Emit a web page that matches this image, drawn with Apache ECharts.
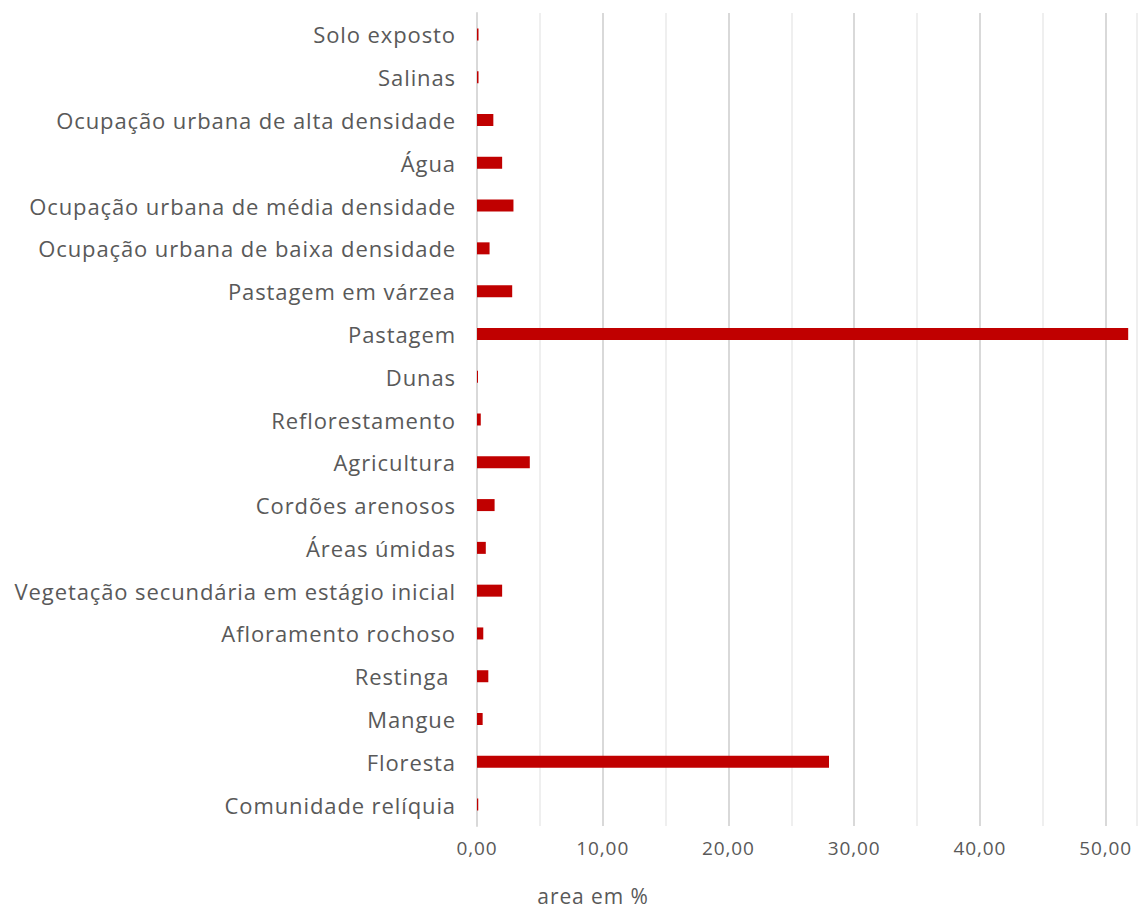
<!DOCTYPE html>
<html>
<head>
<meta charset="utf-8">
<script src="https://cdn.jsdelivr.net/npm/echarts@6/dist/echarts.min.js"></script>
<style>
  html, body { margin: 0; padding: 0; background: #fff; }
  #container { width: 1140px; height: 917px; }
  /* Excel-style loose tracking on all chart text */
  #container svg text { letter-spacing: 0.9px; }
</style>
</head>
<body>
<div id="container"></div>
<script>
// Land cover classes, bottom to top as on the chart
var categories = [
    'Comunidade relíquia',
    'Floresta',
    'Mangue',
    'Restinga ',
    'Afloramento rochoso',
    'Vegetação secundária em estágio inicial',
    'Áreas úmidas',
    'Cordões arenosos',
    'Agricultura',
    'Reflorestamento',
    'Dunas',
    'Pastagem',
    'Pastagem em várzea',
    'Ocupação urbana de baixa densidade',
    'Ocupação urbana de média densidade',
    'Água',
    'Ocupação urbana de alta densidade',
    'Salinas',
    'Solo exposto'
];
// area in %
var areaPct = [0.1, 28.0, 0.45, 0.9, 0.5, 2.0, 0.7, 1.4, 4.2, 0.3, 0.08, 51.8, 2.8, 1.0, 2.9, 2.0, 1.3, 0.12, 0.12];
var axisTitle = 'area em %';

var font = 'Open Sans';
var textColor = '#595959';

var myChart = echarts.init(document.getElementById('container'), null, { renderer: 'svg' });
var option = {
    animation: false,
    title: {
        text: axisTitle,
        left: 593,
        top: 885,
        padding: 0,
        textAlign: 'center',
        textStyle: { fontFamily: font, fontSize: 21, fontWeight: 'normal', color: textColor }
    },
    // the original plot is cut off at the right edge, just past 50
    grid: { left: 477, right: 0, top: 13, bottom: 91, containLabel: false },
    xAxis: {
        type: 'value',
        min: 0,
        max: 52.5,
        interval: 5,
        axisLine: { show: false },
        axisTick: { show: false },
        axisLabel: {
            margin: 12,
            fontFamily: font,
            fontSize: 19,
            color: textColor,
            formatter: function (v) {
                return v % 10 === 0 ? v.toFixed(2).replace('.', ',') : '';
            }
        },
        splitLine: { lineStyle: { color: ['#d9d9d9', '#efefef'], width: 2 } }
    },
    yAxis: {
        type: 'category',
        data: categories,
        axisLine: { lineStyle: { color: '#d9d9d9', width: 2 } },
        axisTick: { length: 11, lineStyle: { color: '#d9d9d9', width: 2 } },
        axisLabel: {
            margin: 21,
            fontFamily: font,
            fontSize: 22,
            color: textColor
        }
    },
    series: [
        {
            name: axisTitle,
            type: 'bar',
            data: areaPct,
            barWidth: 12,
            itemStyle: { color: '#c00000' }
        }
    ]
};
myChart.setOption(option);
</script>
</body>
</html>
